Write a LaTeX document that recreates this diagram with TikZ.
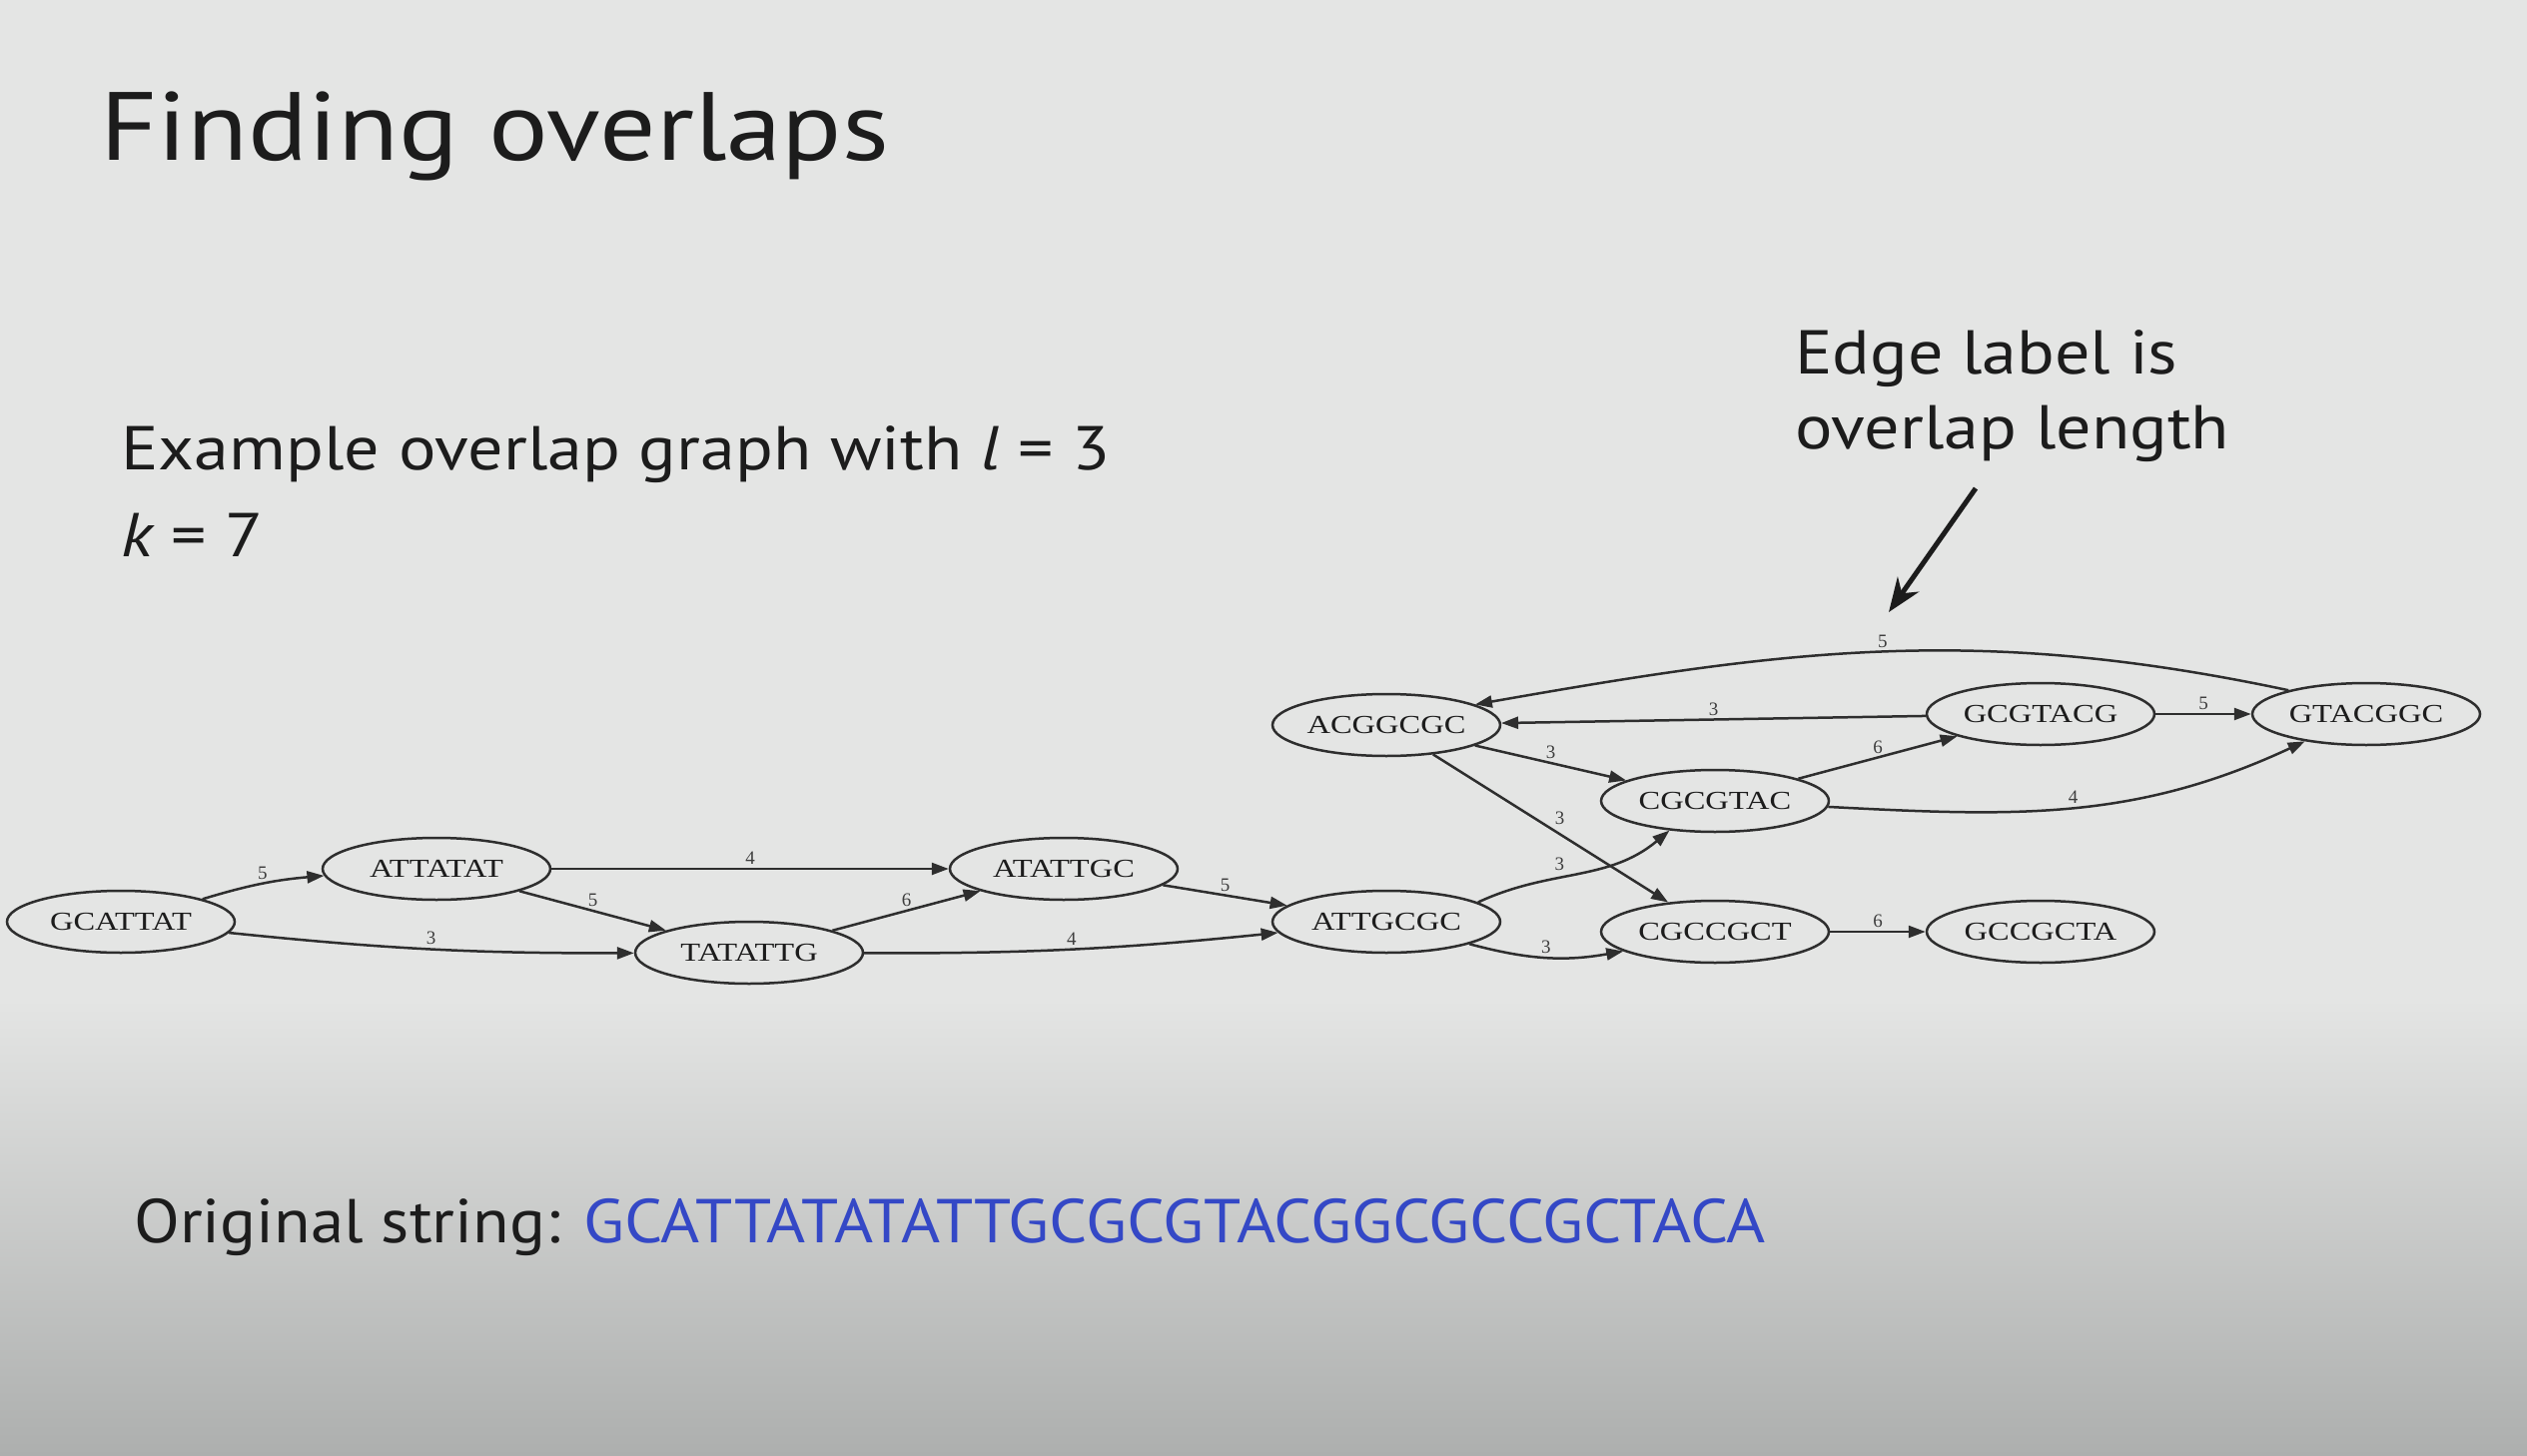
\documentclass[tikz,border=0pt]{standalone}
\usepackage{fontspec}
\setmainfont{PT Sans}
\newfontfamily\titlefont[FakeStretch=1.15]{PT Sans}
\newfontfamily\bodyfont[FakeStretch=1.13]{PT Sans}
\newfontfamily\seqfont[FakeStretch=1.08]{PT Sans}
\newfontfamily\graphfont[FakeStretch=1.25]{Liberation Serif}
\newfontfamily\numfont{Liberation Serif}
\usetikzlibrary{arrows.meta,shapes.geometric}
\definecolor{slidebg}{HTML}{E4E5E4}
\definecolor{slidebot}{HTML}{ADAFAE}
\definecolor{ink}{HTML}{1C1C1C}
\definecolor{seqblue}{HTML}{3448C6}
\definecolor{edgegray}{HTML}{2E2E2E}
\begin{document}
\begin{tikzpicture}[x=1pt,y=1pt,
  kmer/.style={ellipse, draw=edgegray, line width=2.5pt, minimum width=228pt,
    minimum height=62pt, inner sep=0pt, text=ink,
    font=\graphfont\fontsize{26}{26}\selectfont},
  ovl/.style={draw=edgegray, line width=2.5pt,
    -{Triangle[length=17pt,width=12pt]}},
  lbl/.style={font=\numfont\fontsize{19}{19}\selectfont, text=ink!85, inner sep=3pt},
  slidetext/.style={text=ink, inner sep=0pt, anchor=base west},
  annot/.style={draw=ink, line width=5pt, -{Stealth[length=34pt,width=26pt]}}]

% slide background
\fill[slidebg] (0,0) rectangle (2530,-1458);
\shade[top color=slidebg, bottom color=slidebot] (0,-1000) rectangle (2530,-1458);
\useasboundingbox (0,0) rectangle (2530,-1458);

% slide texts
\node[slidetext, font=\titlefont\fontsize{97}{110}\selectfont] (title) at (100,-161) {Finding overlaps};
\node[slidetext, font=\bodyfont\fontsize{62}{72}\selectfont] (intro) at (121,-470)
  {Example overlap graph with {\itshape l\/} = 3};
\node[slidetext, font=\bodyfont\fontsize{62}{72}\selectfont] (kval) at (121,-557) {{\itshape k} = 7};
\node[slidetext, font=\bodyfont\fontsize{62}{72}\selectfont] (note1) at (1797,-374) {Edge label is};
\node[slidetext, font=\bodyfont\fontsize{62}{72}\selectfont] (note2) at (1797,-449) {overlap length};
\node[slidetext, font=\seqfont\fontsize{62}{72}\selectfont] (orig) at (134,-1244)
  {Original string: \textcolor{seqblue}{GCATTATATATTGCGCGTACGGCGCCGCTACA}};

% k-mer nodes
\node[kmer] (g1) at (121,-923)  {GCATTAT};
\node[kmer] (g2) at (437,-870)  {ATTATAT};
\node[kmer] (g3) at (750,-954)  {TATATTG};
\node[kmer] (g4) at (1065,-870) {ATATTGC};
\node[kmer] (g5) at (1388,-923) {ATTGCGC};
\node[kmer] (a)  at (1388,-726) {ACGGCGC};
\node[kmer] (c1) at (1717,-802) {CGCGTAC};
\node[kmer] (c2) at (1717,-933) {CGCCGCT};
\node[kmer] (h)  at (2043,-715) {GCGTACG};
\node[kmer] (t)  at (2369,-715) {GTACGGC};
\node[kmer] (e)  at (2043,-933) {GCCGCTA};

% overlap edges
\draw[ovl] (g1) to[bend left=6] node[lbl,above] {5} (g2);
\draw[ovl] (g1) to[bend right=3] node[lbl,above] {3} (g3);
\draw[ovl] (g2) -- node[lbl,above] {4} (g4);
\draw[ovl] (g2) -- node[lbl,above] {5} (g3);
\draw[ovl] (g3) -- node[lbl,above] {6} (g4);
\draw[ovl] (g3) to[bend right=3] node[lbl,above] {4} (g5);
\draw[ovl] (g4) -- node[lbl,above] {5} (g5);
\draw[ovl] (g5.12) to[out=25,in=220] node[lbl,above left,pos=0.45] {3} (c1.213);
\draw[ovl] (g5.-15) to[out=-15,in=190] node[lbl,above] {3} (c2.192);
\draw[ovl] (a) -- node[lbl,above] {3} (c1);
\draw[ovl] (a) -- node[lbl,above right,pos=0.5] {3} (c2);
\draw[ovl] (c1) -- node[lbl,above] {6} (h);
\draw[ovl] (c1.-3) to[out=-3,in=205] node[lbl,above] {4} (t.204);
\draw[ovl] (h) -- node[lbl,above] {3} (a);
\draw[ovl] (h) -- node[lbl,above] {5} (t);
\draw[ovl] (t.163) to[out=168,in=10] node[lbl,above] (top5) {5} (a.13);
\draw[ovl] (c2) -- node[lbl,above] {6} (e);

% pointer to an edge label
\coordinate (annotTail) at (1978,-489);
\coordinate (annotTip) at (1891,-613);
\draw[annot] (annotTail) -- (annotTip);
\end{tikzpicture}
\end{document}
